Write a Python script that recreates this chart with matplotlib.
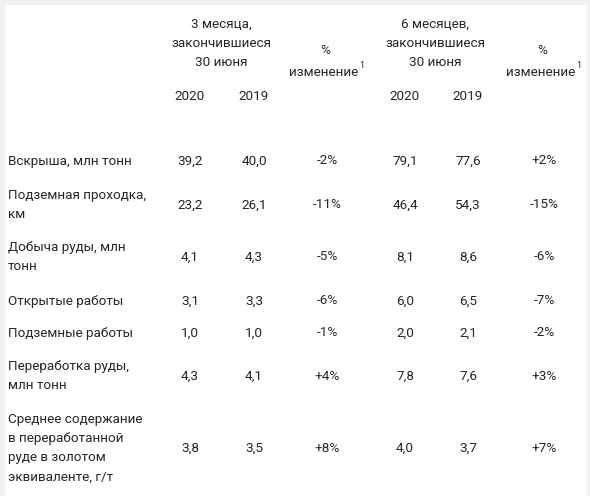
import matplotlib
matplotlib.use("Agg")
import matplotlib.pyplot as plt
from matplotlib.patches import Rectangle

matplotlib.rcParams['font.family'] = ['Roboto', 'DejaVu Sans']

# table data
row_labels = [
    ["Вскрыша, млн тонн"],
    ["Подземная проходка,", "км"],
    ["Добыча руды, млн", "тонн"],
    ["Открытые работы"],
    ["Подземные работы"],
    ["Переработка руды,", "млн тонн"],
    ["Среднее содержание", "в переработанной", "руде в золотом", "эквиваленте, г/т"],
]
q2_2020 = ["39,2", "23,2", "4,1", "3,1", "1,0", "4,3", "3,8"]
q2_2019 = ["40,0", "26,1", "4,3", "3,3", "1,0", "4,1", "3,5"]
q2_change = ["-2%", "-11%", "-5%", "-6%", "-1%", "+4%", "+8%"]
h1_2020 = ["79,1", "46,4", "8,1", "6,0", "2,0", "7,8", "4,0"]
h1_2019 = ["77,6", "54,3", "8,6", "6,5", "2,1", "7,6", "3,7"]
h1_change = ["+2%", "-15%", "-6%", "-7%", "-2%", "+3%", "+7%"]

period_headers = [["3 месяца,", "закончившиеся", "30 июня"],
                  ["6 месяцев,", "закончившиеся", "30 июня"]]
years = ["2020", "2019"]

# layout (pixels)
W, H = 590, 496
row_y = [161, 205, 257, 301, 333, 376, 448]
col_x = [190, 254, 327, 405, 468, 544]
line_h = 19.3
fs = 9.7
txt_color = '#262626'

fig = plt.figure(figsize=(W / 100, H / 100), dpi=100)
ax = fig.add_axes([0, 0, 1, 1])
ax.set_xlim(0, W)
ax.set_ylim(H, 0)
ax.axis('off')

# faint card border
ax.add_patch(Rectangle((0, 0), W, H, facecolor='#f1f1f1', edgecolor='none', zorder=0))
ax.add_patch(Rectangle((5, 5), W - 8, H, facecolor='white', edgecolor='none', zorder=1))

fig.canvas.draw()
renderer = fig.canvas.get_renderer()

# headers
for k, lines in enumerate(period_headers):
    cx = [221, 435][k]
    for j, s in enumerate(lines):
        ax.text(cx, 24 + j * line_h, s, ha='center', va='center', fontsize=fs, color=txt_color, zorder=2)
    for i, yr in enumerate(years):
        ax.text(col_x[k * 3 + i], 97, yr, ha='center', va='center', fontsize=fs, color=txt_color, zorder=2)
    pc = col_x[k * 3 + 2]
    ax.text(pc - 2, 51, "%", ha='center', va='center', fontsize=fs, color=txt_color, zorder=2)
    t = ax.text(pc - 3, 72, "изменение", ha='center', va='center', fontsize=fs, color=txt_color, zorder=2)
    bb = t.get_window_extent(renderer)
    x_end = ax.transData.inverted().transform((bb.x1, bb.y0))[0]
    ax.text(x_end + 0.2, 66, "1", ha='left', va='center', fontsize=fs * 0.68, color=txt_color, zorder=2)

# body
columns = [q2_2020, q2_2019, q2_change, h1_2020, h1_2019, h1_change]
for r, lines in enumerate(row_labels):
    y0 = row_y[r] - (len(lines) - 1) * line_h / 2
    for j, s in enumerate(lines):
        ax.text(8, y0 + j * line_h, s, ha='left', va='center', fontsize=fs, color=txt_color, zorder=2)
    for c, col in enumerate(columns):
        ax.text(col_x[c], row_y[r], col[r], ha='center', va='center', fontsize=fs, color=txt_color, zorder=2)

fig.savefig('out.png', dpi=100)
